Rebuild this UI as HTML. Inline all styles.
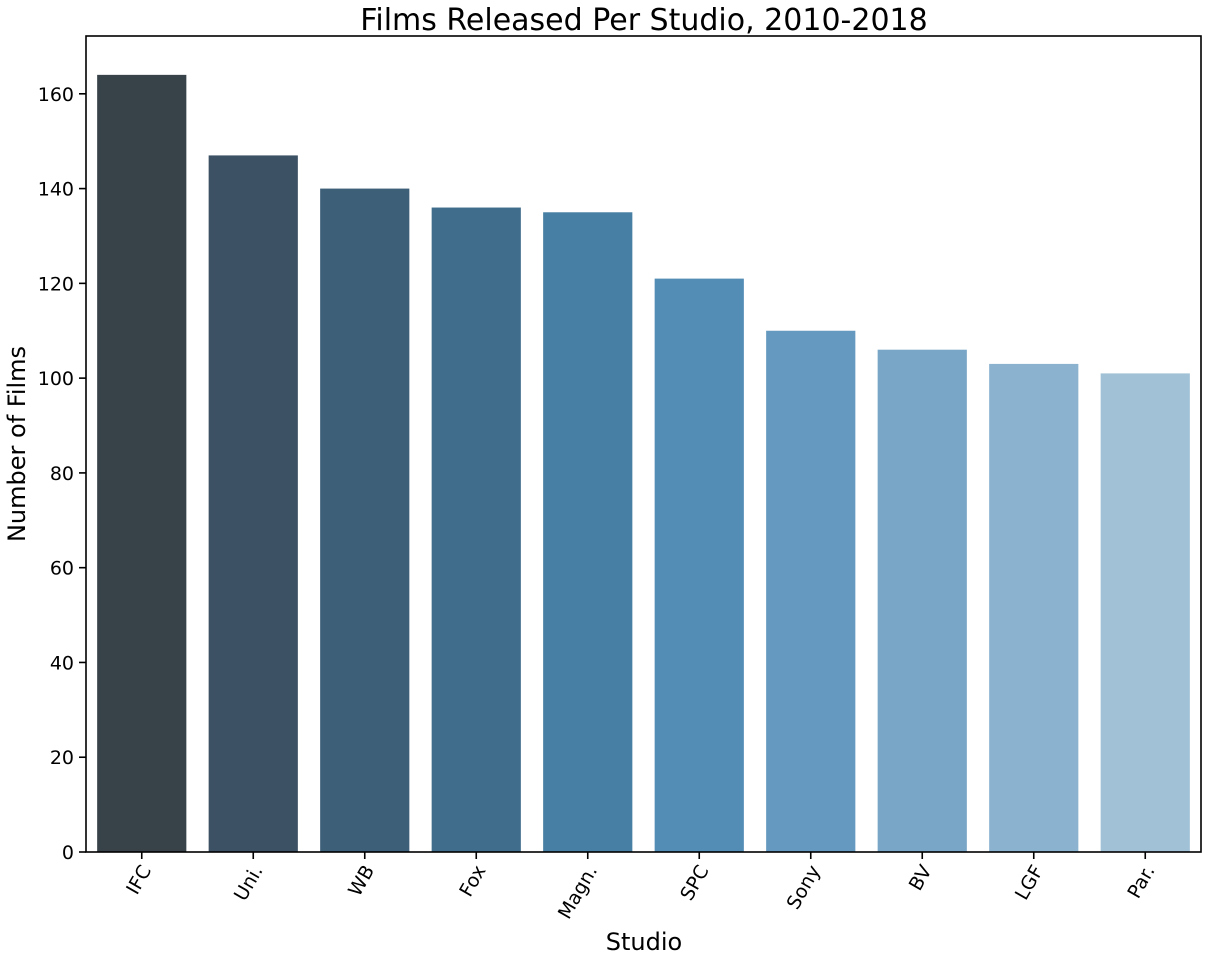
<!DOCTYPE html>
<html><head><meta charset="utf-8"><style>
html,body{margin:0;padding:0;background:#fff;}
svg text{font-family:"DejaVu Sans","Liberation Sans",sans-serif;fill:#000;}
</style></head><body>
<svg id="chart" width="1209" height="962" xmlns="http://www.w3.org/2000/svg">
<text x="644" y="30" font-size="30" text-anchor="middle">Films Released Per Studio, 2010-2018</text>
<g id="bars"></g>
<g id="yticks"></g>
<g id="xticks"></g>
<rect x="86" y="36" width="1115" height="816" fill="none" stroke="#000" stroke-width="1.6"/>
<text x="644" y="950" font-size="24" text-anchor="middle">Studio</text>
<text transform="translate(25,444) rotate(-90)" font-size="24" text-anchor="middle">Number of Films</text>
</svg>
<script>
const categories=["IFC","Uni.","WB","Fox","Magn.","SPC","Sony","BV","LGF","Par."];
const values=[164,147,140,136,135,121,110,106,103,101];
const colors=["#384349","#3c5163","#3e5f78","#416d8c","#477ea3","#538cb5","#6699bf","#79a6c7","#8bb3cf","#a0c1d6"];
const yTicks=[0,20,40,60,80,100,120,140,160];
const L=86,R=1201,T=36,B=852,YMAX=172.2;
const NS="http://www.w3.org/2000/svg";
function y(v){return B-(v/YMAX)*(B-T);}
const step=(R-L)/categories.length;
function xc(i){return L+step*(i+0.5);}
function mk(tag,attrs,parent){const e=document.createElementNS(NS,tag);for(const k in attrs)e.setAttribute(k,attrs[k]);parent.appendChild(e);return e;}
const gb=document.getElementById('bars'),gy=document.getElementById('yticks'),gx=document.getElementById('xticks');
categories.forEach((c,i)=>{
  const w=step*0.8;
  const r=mk('rect',{x:xc(i)-w/2,y:y(values[i]),width:w,height:B-y(values[i]),fill:colors[i]},gb);
  
  
  const t=mk('line',{x1:xc(i),x2:xc(i),y1:B,y2:B+7,stroke:'#000','stroke-width':1.6},gx);
  
  
  const lb=mk('text',{transform:`translate(${xc(i)+10},${B+18}) rotate(-60)`,'font-size':19,'text-anchor':'end'},gx);
  lb.textContent=c;
  
  
});
yTicks.forEach(v=>{
  const t=mk('line',{x1:L-7,x2:L,y1:y(v),y2:y(v),stroke:'#000','stroke-width':1.6},gy);
  
  
  const lb=mk('text',{x:L-12,y:y(v)+7,'font-size':19,'text-anchor':'end'},gy);
  lb.textContent=v;
  
  
});
</script>
</body></html>
